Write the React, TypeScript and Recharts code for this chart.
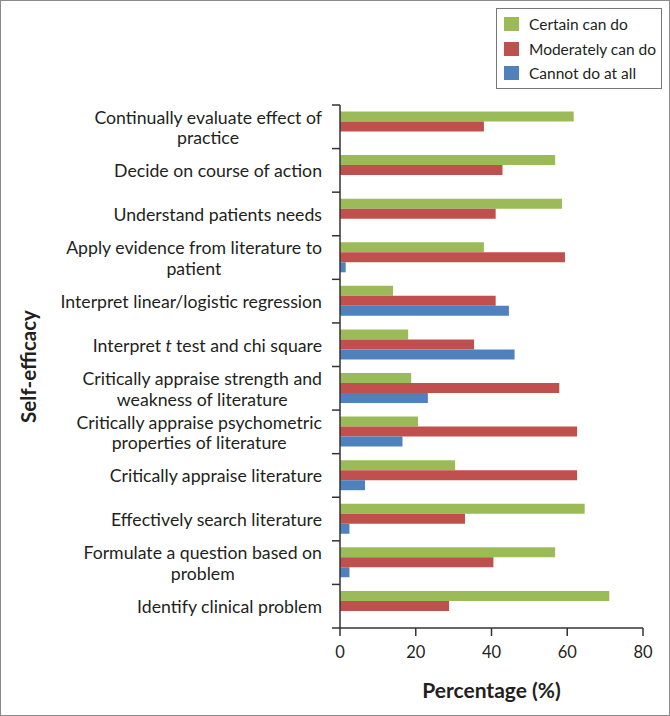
import React from "react";
import {
  BarChart,
  Bar,
  XAxis,
  YAxis,
  Legend,
  Label,
} from "recharts";

const categories = [
  "Continually evaluate effect of practice",
  "Decide on course of action",
  "Understand patients needs",
  "Apply evidence from literature to patient",
  "Interpret linear/logistic regression",
  "Interpret t test and chi square",
  "Critically appraise strength and weakness of literature",
  "Critically appraise psychometric properties of literature",
  "Critically appraise literature",
  "Effectively search literature",
  "Formulate a question based on problem",
  "Identify clinical problem",
];

const categoryLines = [
  ["Continually evaluate effect of", "practice"],
  ["Decide on course of action"],
  ["Understand patients needs"],
  ["Apply evidence from literature to", "patient"],
  ["Interpret linear/logistic regression"],
  ["Interpret t test and chi square"],
  ["Critically appraise strength and", "weakness of literature"],
  ["Critically appraise psychometric", "properties of literature"],
  ["Critically appraise literature"],
  ["Effectively search literature"],
  ["Formulate a question based on", "problem"],
  ["Identify clinical problem"],
];

const certainCanDo = [61.7, 56.8, 58.6, 38.0, 14.0, 18.0, 18.8, 20.6, 30.4, 64.6, 56.8, 71.1];
const moderatelyCanDo = [38.0, 42.9, 41.1, 59.4, 41.1, 35.4, 57.9, 62.6, 62.6, 33.0, 40.5, 28.8];
const cannotDoAtAll = [0, 0, 0, 1.5, 44.6, 46.1, 23.2, 16.5, 6.6, 2.5, 2.5, 0];

const seriesNames = ["Certain can do", "Moderately can do", "Cannot do at all"];
const xTicks = [0, 20, 40, 60, 80];

const data = categories.map((name, i) => ({
  name,
  certain: certainCanDo[i],
  moderately: moderatelyCanDo[i],
  cannot: cannotDoAtAll[i],
}));

const FONT = "Lato, 'Open Sans', sans-serif";
const TEXT = "#231f20";
const AXIS = "#333";
const TICK_SIZE = 8;
const TICK_MARGIN = 10;
const LABEL_SIZE = 17.7;

let ctx: CanvasRenderingContext2D | null = null;
function measure(text: string, size: number) {
  if (!ctx) ctx = document.createElement("canvas").getContext("2d");
  if (!ctx) return text.length * size * 0.5;
  ctx.font = `${size}px Lato`;
  return ctx.measureText(text).width;
}

function words(line: string) {
  // the "t" in "t test" is italic
  const parts = line.split(" ");
  return parts.map((w, i) => (
    <tspan key={i} fontStyle={w === "t" ? "italic" : "normal"}>
      {w + (i < parts.length - 1 ? " " : "")}
    </tspan>
  ));
}

function CategoryTick(props: any) {
  const { x, y, payload, index, visibleTicksCount } = props;
  const lines: string[] = categoryLines[index] ?? [payload.value];
  const half = payload.offset ?? 21.8;
  const widths = lines.map((l) => measure(l, LABEL_SIZE));
  const maxW = Math.max(...widths);
  const lineH = 20.5;
  const startY = y - ((lines.length - 1) * lineH) / 2;
  const lx1 = x + TICK_MARGIN;
  const lx2 = x + TICK_MARGIN + TICK_SIZE;
  const last = index === (visibleTicksCount ?? categories.length) - 1;
  return (
    <g>
      <line x1={lx1} x2={lx2} y1={y - half} y2={y - half} stroke={AXIS} strokeWidth={1.5} />
      {last && (
        <line x1={lx1} x2={lx2} y1={y + half} y2={y + half} stroke={AXIS} strokeWidth={1.5} />
      )}
      {lines.map((l, i) => (
        <text
          key={i}
          x={x - (maxW - widths[i]) / 2}
          y={startY + i * lineH}
          textAnchor="end"
          dominantBaseline="central"
          fontSize={LABEL_SIZE}
          fontFamily={FONT}
          fill={TEXT}
        >
          {words(l)}
        </text>
      ))}
    </g>
  );
}

function LegendBox(props: any) {
  const items = [...(props.payload ?? [])].sort(
    (a: any, b: any) => seriesNames.indexOf(a.value) - seriesNames.indexOf(b.value)
  );
  return (
    <div
      style={{
        border: "1px solid #777",
        boxSizing: "border-box",
        width: 166,
        height: 81,
        padding: "3px 0 0 7px",
        fontFamily: FONT,
        fontSize: 15.5,
        color: TEXT,
        background: "#fff",
      }}
    >
      {items.map((p: any) => (
        <div key={p.value} style={{ display: "flex", alignItems: "center", height: 24.5 }}>
          <span
            style={{ width: 15, height: 14, background: p.color, display: "inline-block", marginRight: 10 }}
          />
          <span>{p.value}</span>
        </div>
      ))}
    </div>
  );
}

export default function App() {
  return (
    <div
      style={{
        position: "absolute",
        left: 0,
        top: 0,
        width: 670,
        height: 716,
        boxSizing: "border-box",
        border: "1px solid #8a8a8a",
        background: "#fff",
      }}
    >
      <div style={{ position: "absolute", left: -1, top: -1 }}>
        <BarChart
          width={670}
          height={716}
          data={data}
          layout="vertical"
          margin={{ top: 105, right: 27, bottom: 0, left: 0 }}
          barCategoryGap="15%"
          barGap={0}
        >
          <XAxis
            type="number"
            domain={[0, 80]}
            ticks={xTicks}
            interval={0}
            height={88}
            tickSize={TICK_SIZE}
            tickMargin={10}
            axisLine={{ stroke: AXIS, strokeWidth: 1.5 }}
            tickLine={{ stroke: AXIS, strokeWidth: 1.5 }}
            tick={{ fontSize: 16.5, fontFamily: FONT, fill: TEXT }}
          >
            <Label
              content={(p: any) => {
                const vb = p.viewBox;
                return (
                  <text
                    x={vb.x + vb.width / 2}
                    y={vb.y + 61}
                    textAnchor="middle"
                    dominantBaseline="central"
                    fontSize={21}
                    fontWeight="bold"
                    fontFamily={FONT}
                    fill={TEXT}
                  >
                    Percentage (%)
                  </text>
                );
              }}
            />
          </XAxis>
          <YAxis
            type="category"
            dataKey="name"
            width={340}
            interval={0}
            tickSize={TICK_SIZE}
            tickMargin={TICK_MARGIN}
            tickLine={false}
            axisLine={{ stroke: AXIS, strokeWidth: 1.5 }}
            tick={<CategoryTick />}
          >
            <Label
              content={(p: any) => {
                const vb = p.viewBox;
                const cy = vb.y + vb.height / 2;
                return (
                  <text
                    x={28}
                    y={cy}
                    transform={`rotate(-90, 28, ${cy})`}
                    textAnchor="middle"
                    dominantBaseline="central"
                    fontSize={20.5}
                    fontWeight="bold"
                    fontFamily={FONT}
                    fill={TEXT}
                  >
                    Self-efficacy
                  </text>
                );
              }}
            />
          </YAxis>
          <Legend
            layout="vertical"
            align="center"
            verticalAlign="middle"
            content={<LegendBox />}
            wrapperStyle={{ position: "absolute", left: 496, top: 8, width: 166, height: 81 }}
          />
          <Bar dataKey="certain" name={seriesNames[0]} fill="#9BBB59" isAnimationActive={false} />
          <Bar dataKey="moderately" name={seriesNames[1]} fill="#C0504D" isAnimationActive={false} />
          <Bar dataKey="cannot" name={seriesNames[2]} fill="#4F81BD" isAnimationActive={false} />
        </BarChart>
      </div>
    </div>
  );
}
